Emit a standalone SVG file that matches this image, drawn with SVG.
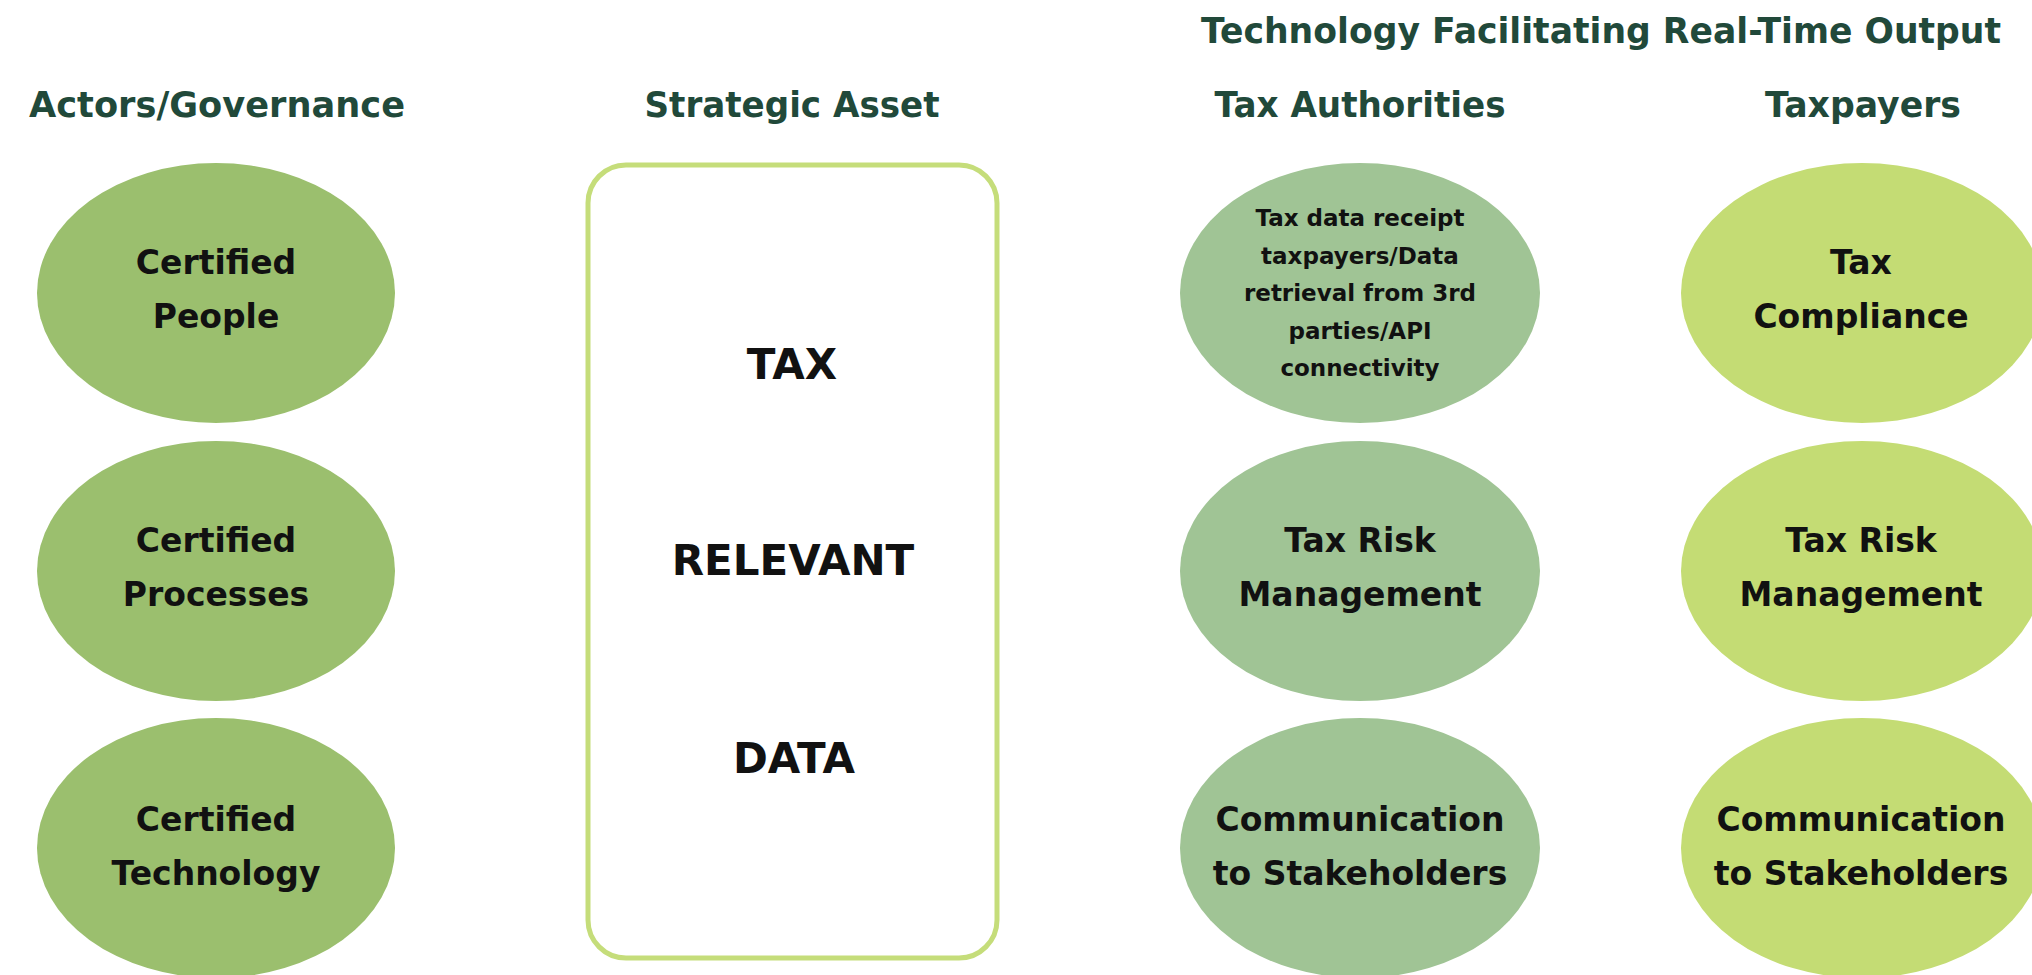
<svg xmlns="http://www.w3.org/2000/svg" width="2032" height="975" viewBox="0 0 2032 975">
  <style>
    text { font-family: "DejaVu Sans", "Liberation Sans", sans-serif; font-weight: bold; text-anchor: middle; }
    .hdr { font-size: 35px; fill: #21493a; }
    .lbl { font-size: 33px; fill: #111111; }
    .small { font-size: 23px; fill: #111111; }
    .big { font-size: 42px; fill: #111111; }
    .actor { fill: #9bbf6e; }
    .auth { fill: #a0c495; }
    .payer { fill: #c4dc74; }
    .asset { fill: #ffffff; stroke: #c5dd7a; stroke-width: 5; }
  </style>
  <rect width="2032" height="975" fill="#ffffff"/>

  <g id="headers">
    <text class="hdr" x="1601" y="43" textLength="800" lengthAdjust="spacingAndGlyphs">Technology Facilitating Real-Time Output</text>
    <text class="hdr" x="217" y="117" textLength="376" lengthAdjust="spacingAndGlyphs">Actors/Governance</text>
    <text class="hdr" x="792" y="117" textLength="295" lengthAdjust="spacingAndGlyphs">Strategic Asset</text>
    <text class="hdr" x="1360" y="117" textLength="291" lengthAdjust="spacingAndGlyphs">Tax Authorities</text>
    <text class="hdr" x="1863" y="117" textLength="196" lengthAdjust="spacingAndGlyphs">Taxpayers</text>
  </g>

  <g id="certified-people">
    <ellipse class="actor" cx="216" cy="293" rx="179" ry="130"/>
    <text class="lbl" x="216" y="274">Certified</text>
    <text class="lbl" x="216" y="328">People</text>
  </g>
  <g id="certified-processes">
    <ellipse class="actor" cx="216" cy="571" rx="179" ry="130"/>
    <text class="lbl" x="216" y="552">Certified</text>
    <text class="lbl" x="216" y="606">Processes</text>
  </g>
  <g id="certified-technology">
    <ellipse class="actor" cx="216" cy="848" rx="179" ry="130"/>
    <text class="lbl" x="216" y="831">Certified</text>
    <text class="lbl" x="216" y="885">Technology</text>
  </g>

  <g id="strategic-asset">
    <rect class="asset" x="588" y="165" width="409" height="793" rx="38" ry="38"/>
    <text class="big" x="792" y="379">TAX</text>
    <text class="big" x="793" y="575">RELEVANT</text>
    <text class="big" x="794" y="773">DATA</text>
  </g>

  <g id="tax-data-receipt">
    <ellipse class="auth" cx="1360" cy="293" rx="180" ry="130"/>
    <text class="small" x="1360" y="226">Tax data receipt</text>
    <text class="small" x="1360" y="264">taxpayers/Data</text>
    <text class="small" x="1360" y="301">retrieval from 3rd</text>
    <text class="small" x="1360" y="339">parties/API</text>
    <text class="small" x="1360" y="376">connectivity</text>
  </g>
  <g id="auth-tax-risk">
    <ellipse class="auth" cx="1360" cy="571" rx="180" ry="130"/>
    <text class="lbl" x="1360" y="552">Tax Risk</text>
    <text class="lbl" x="1360" y="606">Management</text>
  </g>
  <g id="auth-communication">
    <ellipse class="auth" cx="1360" cy="848" rx="180" ry="130"/>
    <text class="lbl" x="1360" y="831">Communication</text>
    <text class="lbl" x="1360" y="885">to Stakeholders</text>
  </g>

  <g id="payer-compliance">
    <ellipse class="payer" cx="1862" cy="293" rx="181" ry="130"/>
    <text class="lbl" x="1861" y="274">Tax</text>
    <text class="lbl" x="1861" y="328">Compliance</text>
  </g>
  <g id="payer-tax-risk">
    <ellipse class="payer" cx="1862" cy="571" rx="181" ry="130"/>
    <text class="lbl" x="1861" y="552">Tax Risk</text>
    <text class="lbl" x="1861" y="606">Management</text>
  </g>
  <g id="payer-communication">
    <ellipse class="payer" cx="1862" cy="848" rx="181" ry="130"/>
    <text class="lbl" x="1861" y="831">Communication</text>
    <text class="lbl" x="1861" y="885">to Stakeholders</text>
  </g>

  <g id="connectors"/>
</svg>
